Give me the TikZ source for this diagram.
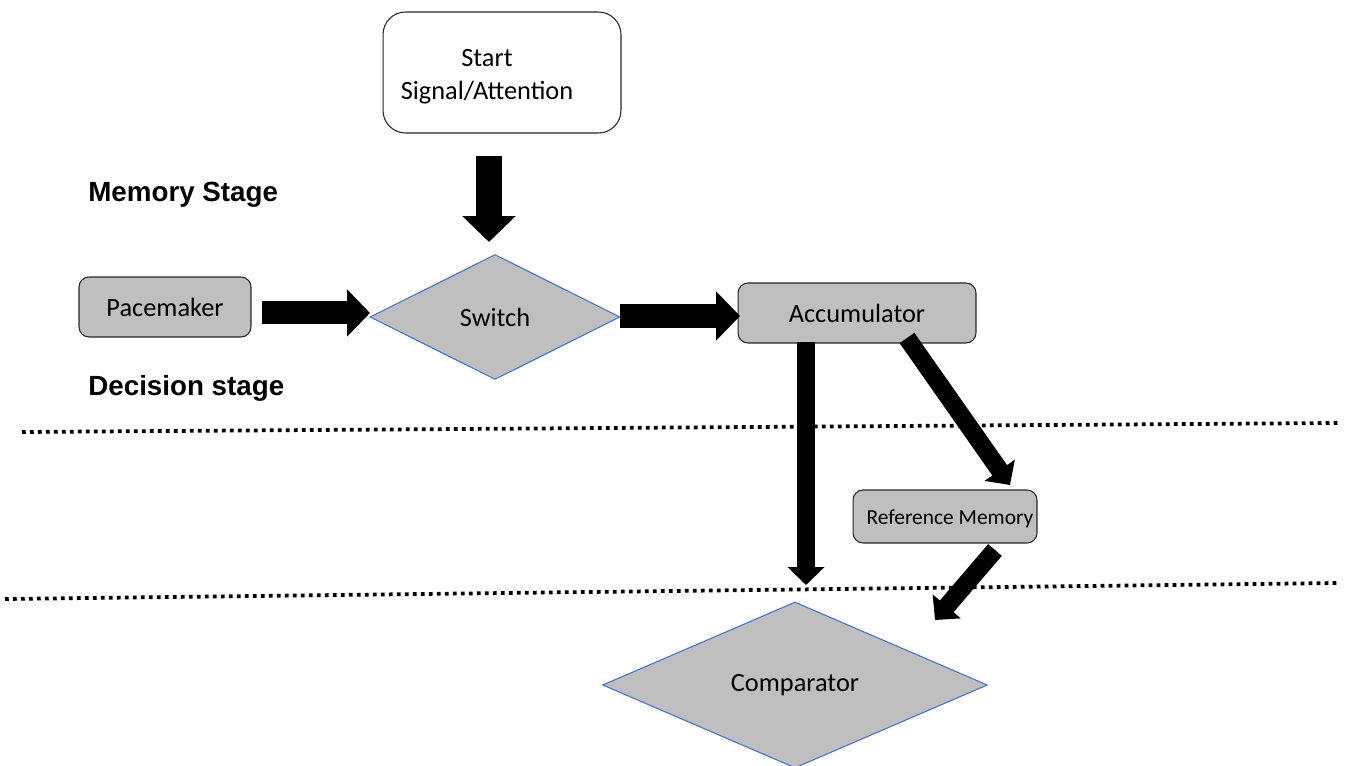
\documentclass[tikz,border=0pt]{standalone}
\usepackage{fontspec}
\setmainfont{Carlito}
\newfontfamily\stagefont{Liberation Sans}
\usetikzlibrary{shapes.geometric,arrows.meta}
\definecolor{boxgray}{RGB}{191,191,191}
\definecolor{edgeblue}{RGB}{68,114,196}
\tikzset{
	box/.style={draw=black!85, fill=boxgray, rounded corners=0.2cm, line width=0.6pt, inner sep=0pt},
	gate/.style={diamond, draw=edgeblue, fill=boxgray, line width=0.6pt, inner sep=0pt},
	stage/.style={font=\stagefont\bfseries\fontsize{15.8}{19}\selectfont, inner sep=0pt},
	stageline/.style={line width=0.075cm, dash pattern=on 0.075cm off 0.085cm},
	flow/.style={line width=#1, -{Triangle[width=0pt 2, length=0pt 1]}}
}

\begin{document}
\begin{tikzpicture}[x=0.02cm,y=-0.02cm,font=\fontsize{15}{19}\selectfont]
\useasboundingbox (0,0) rectangle (1346,766);
% Blocks
\node[box, fill=white, rounded corners=0.45cm, minimum width=4.76cm, minimum height=2.42cm, align=center] (start) at (502,72.5) {\rule{0pt}{0.5cm}Start\hspace*{0.6cm}\\Signal/Attention\hspace*{0.6cm}};
\node[box, minimum width=3.44cm, minimum height=1.2cm] (pacemaker) at (165,307) {Pacemaker};
\node[gate, minimum width=5cm, minimum height=2.5cm] (switch) at (495,317) {Switch};
\node[box, minimum width=4.76cm, minimum height=1.2cm] (accumulator) at (857,313) {Accumulator};
\node[box, minimum width=3.68cm, minimum height=1.06cm, font=\fontsize{12.2}{14}\selectfont] (refmem) at (945,516.5) {\rule{0pt}{0.4cm}\hspace*{0.2cm}Reference Memory};
\node[gate, minimum width=7.7cm, minimum height=3.32cm] (comparator) at (795,685) {Comparator};

% Stages
\node[stage, anchor=base west] (memstage) at (88,202) {Memory Stage};
\node[stage, anchor=base west] (decstage) at (88,396) {Decision stage};
\coordinate (sepAl) at (22,432);
\coordinate (sepAr) at (1338,423);
\coordinate (sepBl) at (5,599);
\coordinate (sepBr) at (1338,583);
\draw[stageline] (sepAl)--(sepAr);
\draw[stageline] (sepBl)--(sepBr);

% Arrows
\coordinate (startout) at (489,156);
\coordinate (switchin) at (489,242);
\coordinate (paceout) at (262,313);
\coordinate (switchinl) at (370,313);
\coordinate (switchout) at (620,316);
\coordinate (accin) at (740,316);
\coordinate (accout) at (806,342);
\coordinate (compin) at (806,585);
\coordinate (accoutr) at (907,338);
\coordinate (refin) at (1010,485);
\coordinate (refout) at (995,550);
\coordinate (compinr) at (935,620);
\draw[flow=0.52cm] (startout)--(switchin);
\draw[flow=0.46cm] (paceout)--(switchinl);
\draw[flow=0.48cm] (switchout)--(accin);
\draw[flow=0.36cm] (accout)--(compin);
\draw[flow=0.36cm] (accoutr)--(refin);
\draw[flow=0.36cm] (refout)--(compinr);
\end{tikzpicture}
\end{document}
